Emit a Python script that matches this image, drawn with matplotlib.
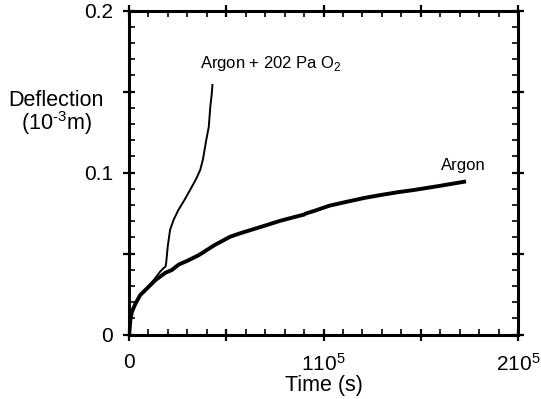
import matplotlib
matplotlib.use("Agg")
import matplotlib.pyplot as plt
from matplotlib.ticker import MultipleLocator

plt.rcParams['font.family'] = ['Liberation Sans', 'DejaVu Sans']
plt.rcParams['mathtext.fontset'] = 'custom'
plt.rcParams['mathtext.rm'] = 'Liberation Sans'

# time in units of 1e5 s, deflection in 1e-3 m
argon_t = [0, 0.002, 0.007, 0.015, 0.033, 0.058, 0.093, 0.136, 0.187, 0.22, 0.256, 0.3, 0.359,
           0.44, 0.521, 0.572, 0.68, 0.778, 0.86, 0.9, 0.907, 0.95, 1.03, 1.122, 1.21, 1.294,
           1.38, 1.465, 1.6, 1.723]
argon_y = [0, 0.0017, 0.009, 0.014, 0.019, 0.0244, 0.0285, 0.0336, 0.0381, 0.0398, 0.0432, 0.0455, 0.049,
           0.0552, 0.0604, 0.0625, 0.0665, 0.0702, 0.0728, 0.0740, 0.0746, 0.0762, 0.0795, 0.082, 0.0843, 0.0861,
           0.0878, 0.0892, 0.0918, 0.0943]

o2_t = [0, 0.002, 0.007, 0.015, 0.033, 0.058, 0.093, 0.13, 0.16, 0.177, 0.188, 0.191, 0.199, 0.211,
        0.23, 0.254, 0.285, 0.314, 0.345, 0.366, 0.38, 0.397, 0.41, 0.418, 0.425, 0.429]
o2_y = [0, 0.0017, 0.009, 0.014, 0.019, 0.0244, 0.0288, 0.034, 0.0388, 0.0409, 0.042, 0.044, 0.0542, 0.0645,
        0.071, 0.0769, 0.083, 0.0892, 0.096, 0.1015, 0.108, 0.120, 0.128, 0.1406, 0.148, 0.154]

x_ticks = [0, 0.5, 1, 1.5, 2]
x_ticklabels = ['0', '', r'$\mathregular{110^5}$', '', r'$\mathregular{210^5}$']
y_ticks = [0, 0.05, 0.1, 0.15, 0.2]
y_ticklabels = ['0', '', '0.1', '', '0.2']

fig = plt.figure(figsize=(5.41, 3.99), dpi=100)
ax = fig.add_axes([129 / 541, 1 - 334.5 / 399, (518 - 129) / 541, (334.5 - 10.5) / 399])

ax.plot(argon_t, argon_y, color='black', lw=2.8)
ax.plot(o2_t, o2_y, color='black', lw=1.4)

ax.set_xlim(0, 2)
ax.set_ylim(0, 0.2)
ax.set_xticks(x_ticks)
ax.set_xticklabels(x_ticklabels, fontsize=15)
ax.set_yticks(y_ticks)
ax.set_yticklabels(y_ticklabels, fontsize=15)
ax.xaxis.set_minor_locator(MultipleLocator(0.1))
ax.yaxis.set_minor_locator(MultipleLocator(0.01))

for s in ax.spines.values():
    s.set_linewidth(2.2)

ax.tick_params(which='major', direction='inout', length=9, width=1.6, top=True, right=True)
ax.tick_params(axis='x', which='major', pad=9)
ax.tick_params(axis='y', which='major', pad=7)
ax.tick_params(which='minor', direction='in', length=4, width=1.2, top=True, right=True)

ax.set_xlabel('Time (s)', fontsize=15.5, labelpad=0)

fig.text(56 / 541, 1 - 100 / 399, 'Deflection', fontsize=15.5, ha='center', va='center')
fig.text(56 / 541, 1 - 123 / 399, r'(10$^{\mathregular{\text{-}3}}$m)', fontsize=15.5, ha='center', va='center')

ax.text(0.366, 0.167, r'Argon + 202 Pa O$_{\mathregular{2}}$', fontsize=12, va='center')
ax.text(1.603, 0.1046, 'Argon', fontsize=12, va='center')

fig.savefig('out.png', dpi=100)
